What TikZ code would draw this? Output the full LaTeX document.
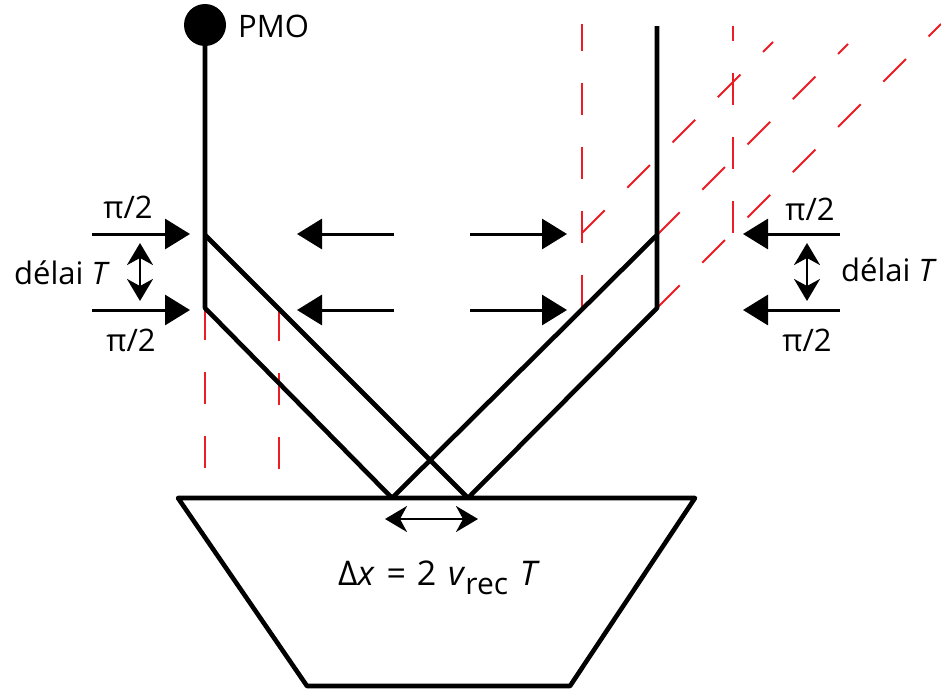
\documentclass[tikz,border=0pt]{standalone}
\usepackage{fontspec}
\setmainfont{Open Sans}
\usetikzlibrary{arrows.meta}

\definecolor{laserred}{RGB}{236,28,36}

\tikzset{
  beam/.style={line width=4.6pt, line join=round},
  ghost/.style={laserred, line width=2pt, dash pattern=on 32pt off 32pt},
  pulse/.style={line width=3pt, -{Triangle[length=25pt,width=30pt]}},
  delay/.style={line width=2.6pt, {Stealth[length=22pt,width=26pt,inset=7pt]}-{Stealth[length=22pt,width=26pt,inset=7pt]}},
  lbl/.style={font=\fontsize{31}{36}\selectfont, inner sep=0pt}
}

\begin{document}
\begin{tikzpicture}[x=1pt, y=-1pt, every node/.style={lbl}]
\useasboundingbox (0,0) rectangle (941,691);

% corners of the two arms
\coordinate (lt) at (205,235);
\coordinate (lb) at (205,308);
\coordinate (rt) at (657,235);
\coordinate (rb) at (657,308);
\coordinate (va) at (392,498);
\coordinate (vb) at (468,498);

% detector
\node[circle, fill, minimum size=42pt] (pmo) at (205,25) {};
\node[anchor=west] (pmolbl) at (238,26) {PMO};

% red dashed paths
\draw[ghost] (lb) -- (205,470);
\draw[ghost] (279,309) -- (279,470);
\draw[ghost] (582,307) -- (582,24);
\draw[ghost] (733,233) -- (733,26);
\draw[ghost] (582,233) -- (773,42);
\draw[ghost] (rt) -- (848,44);
\draw[ghost] (rb) -- (941,24);

% arms
\draw[beam] (pmo.south) -- (lb) -- (va);
\draw[beam] (lt) -- (vb);
\draw[beam] (657,26) -- (rb) -- (vb);
\draw[beam] (rt) -- (va);

% mirror
\draw[beam] (178,498) -- (695,498) -- (570,686) -- (307,686) -- cycle;

% pulses
\foreach \y in {234,310} {
  \draw[pulse] (92,\y) -- (190,\y);
  \draw[pulse] (394,\y) -- (297,\y);
  \draw[pulse] (470,\y) -- (567,\y);
  \draw[pulse] (840,\y) -- (743,\y);
}
\draw[delay] (140,243) -- (140,301);
\draw[delay] (807,243) -- (807,301);
\draw[delay] (385,519) -- (478,519);

\node (pil1) at (128,207) {π/2};
\node (pil2) at (131,340) {π/2};
\node (pir1) at (810,209) {π/2};
\node (pir2) at (807,340) {π/2};
\node (dell) at (62,273) {délai \textit{T}};
\node (delr) at (889,270) {délai \textit{T}};
\node[font=\fontsize{34}{40}\selectfont] (dx) at (439,578)
  {Δ\textit{x}\hspace{3pt} = \hspace{2pt}2\hspace{3pt} \textit{v}\raisebox{-9pt}{\fontsize{30}{30}\selectfont rec}\hspace{3pt} \textit{T}};
\end{tikzpicture}
\end{document}
